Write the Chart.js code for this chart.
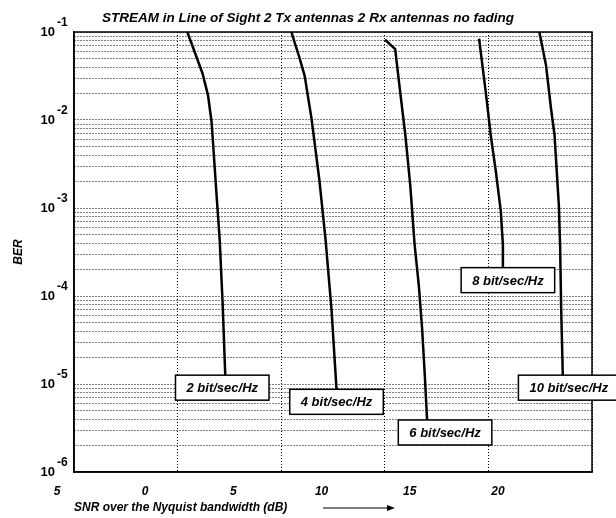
<!DOCTYPE html>
<html>
<head>
<meta charset="utf-8">
<script src="https://cdn.jsdelivr.net/npm/chart.js@4"></script>
<style>
  html, body { margin: 0; padding: 0; background: #fff; }
  canvas { display: block; }
</style>
</head>
<body>
<canvas id="grafico" width="616" height="518"></canvas>
<script>
// curvas BER x SNR ----------------------------------------
var snr2 = [0.47, 1.20, 1.47, 1.64, 1.76, 1.89, 2.03, 2.17, 2.30];
var ber2 = [1e-1, 3.4e-2, 1.9e-2, 9.5e-3, 3.7e-3, 1.3e-3, 4.4e-4, 8.6e-5, 1.26e-5];

var snr4 = [5.49, 5.89, 6.13, 6.46, 6.84, 7.14, 7.43, 7.67];
var ber4 = [1e-1, 5.0e-2, 3.2e-2, 1.05e-2, 2.1e-3, 4.4e-4, 6.9e-5, 8.7e-6];

var snr6 = [10.01, 10.50, 10.74, 10.99, 11.23, 11.44, 11.64, 11.80, 11.93, 12.04];
var ber6 = [8.2e-2, 6.4e-2, 2.1e-2, 6.8e-3, 1.8e-3, 3.8e-4, 1.33e-4, 4.3e-5, 1.26e-5, 3.9e-6];

var snr8 = [14.55, 14.87, 15.11, 15.36, 15.60, 15.70, 15.70];
var ber8 = [8.4e-2, 2.1e-2, 6.8e-3, 2.6e-3, 9.1e-4, 3.8e-4, 2.1e-4];

var snr10 = [17.46, 17.78, 18.02, 18.19, 18.30, 18.40, 18.46, 18.51, 18.59];
var ber10 = [1e-1, 4.2e-2, 1.36e-2, 6.8e-3, 2.6e-3, 1.07e-3, 3.8e-4, 7.6e-5, 1.26e-5];

var rotulos = ["2 bit/sec/Hz", "4 bit/sec/Hz", "6 bit/sec/Hz", "8 bit/sec/Hz", "10 bit/sec/Hz"];

// eixos ---------------------------------------------------
var xTicks = [-5, 0, 5, 10, 15, 20];
var xTickLabels = ["5", "0", "5", "10", "15", "20"];
var yDecadas = [1e-6, 1e-5, 1e-4, 1e-3, 1e-2, 1e-1];
var yExpoentes = ["-6", "-5", "-4", "-3", "-2", "-1"];

var curvas = [
  { snr: snr2, ber: ber2 },
  { snr: snr4, ber: ber4 },
  { snr: snr6, ber: ber6 },
  { snr: snr8, ber: ber8 },
  { snr: snr10, ber: ber10 }
];

// deslocamento horizontal das caixas de rótulo (px)
var deslocRotulo = [-3, 0, 18, 5, 6];

var fonte = '"Liberation Sans", Arial, Helvetica, sans-serif';
Chart.defaults.font.family = fonte;
Chart.defaults.color = "#000";

var gradeCor = "#000";

// rótulos 10^k, caixas, moldura, seta ---------------------
var decoracao = {
  id: "decoracao",
  afterDraw: function (chart) {
    var ctx = chart.ctx;
    var area = chart.chartArea;
    var sx = chart.scales.x;
    var sy = chart.scales.y;
    ctx.save();

    ctx.strokeStyle = "#000";
    ctx.lineWidth = 1.5;
    ctx.strokeRect(area.left, area.top, area.right - area.left, area.bottom - area.top);

    ctx.fillStyle = "#000";
    ctx.textBaseline = "middle";
    yDecadas.forEach(function (v, i) {
      var py = sy.getPixelForValue(v);
      ctx.font = "bold 13px " + fonte;
      ctx.textAlign = "right";
      ctx.fillText("10", area.left - 19, py);
      ctx.font = "bold 12px " + fonte;
      ctx.textAlign = "left";
      ctx.fillText(yExpoentes[i], area.left - 17, py - 9);
    });

    ctx.font = "italic bold 13px " + fonte;
    ctx.textAlign = "center";
    ctx.lineWidth = 1.5;
    rotulos.forEach(function (txt, i) {
      var c = curvas[i];
      var n = c.snr.length - 1;
      var px = sx.getPixelForValue(c.snr[n]) + deslocRotulo[i];
      var py = sy.getPixelForValue(c.ber[n]);
      var w = ctx.measureText(txt).width + 22;
      var h = 25;
      ctx.fillStyle = "#fff";
      ctx.fillRect(px - w / 2, py, w, h);
      ctx.strokeStyle = "#000";
      ctx.strokeRect(px - w / 2, py, w, h);
      ctx.fillStyle = "#000";
      ctx.fillText(txt, px, py + h / 2 + 1);
    });

    // seta ao lado do titulo do eixo x
    var ya = chart.height - 10;
    var x0 = area.left + 249, x1 = area.left + 321;
    ctx.lineWidth = 1;
    ctx.beginPath();
    ctx.moveTo(x0, ya);
    ctx.lineTo(x1 - 6, ya);
    ctx.stroke();
    ctx.beginPath();
    ctx.moveTo(x1, ya);
    ctx.lineTo(x1 - 8, ya - 3);
    ctx.lineTo(x1 - 8, ya + 3);
    ctx.closePath();
    ctx.fill();

    ctx.restore();
  }
};

var ctxGrafico = document.getElementById("grafico");

new Chart(ctxGrafico, {
  type: "line",
  data: {
    datasets: curvas.map(function (c, i) {
      return {
        label: rotulos[i],
        data: c.snr.map(function (x, j) { return { x: x, y: c.ber[j] }; }),
        borderColor: "#000",
        borderWidth: 2.5,
        pointRadius: 0,
        tension: 0,
        fill: false,
        xAxisID: "x",
        yAxisID: "y"
      };
    })
  },
  options: {
    responsive: false,
    animation: false,
    layout: { padding: 0 },
    plugins: {
      legend: { display: false },
      tooltip: { enabled: false },
      title: {
        display: true,
        text: "STREAM in Line of Sight 2 Tx antennas 2 Rx antennas no fading",
        font: { size: 13.5, weight: "bold", style: "italic" },
        color: "#000",
        padding: { top: 10, bottom: 5.8 }
      }
    },
    scales: {
      x: {
        type: "linear",
        position: "bottom",
        min: -5,
        max: 20,
        ticks: { display: false, stepSize: 5 },
        grid: { color: gradeCor, lineWidth: 1, drawTicks: false },
        border: { display: true, color: "#000", width: 1.5, dash: [1, 2] },
        afterFit: function (s) { s.height = 0; }
      },
      x2: {
        type: "linear",
        position: "bottom",
        min: -5,
        max: 24.37,
        grid: { display: false, drawTicks: false },
        border: { display: false },
        ticks: {
          stepSize: 5,
          includeBounds: false,
          labelOffset: -17,
          padding: 12,
          maxRotation: 0,
          font: { size: 12, weight: "bold", style: "italic" },
          callback: function (v) {
            var k = xTicks.indexOf(v);
            return k >= 0 ? xTickLabels[k] : "";
          }
        },
        title: {
          display: true,
          text: "SNR over the Nyquist bandwidth (dB)",
          align: "start",
          font: { size: 12, weight: "bold", style: "italic" },
          padding: { top: 0, bottom: 3 }
        },
        afterFit: function (s) { s.height = 46; }
      },
      y: {
        type: "logarithmic",
        position: "left",
        min: 1e-6,
        max: 1e-1,
        ticks: { display: false, autoSkip: false },
        grid: { color: gradeCor, lineWidth: 1, drawTicks: false },
        border: { display: true, color: "#000", width: 1.5, dash: [1, 2] },
        title: {
          display: true,
          text: "BER",
          font: { size: 12, weight: "bold", style: "italic" },
          padding: { top: 11, bottom: 0 }
        },
        afterBuildTicks: function (s) {
          var t = [];
          yDecadas.forEach(function (d, i) {
            if (i === yDecadas.length - 1) { t.push({ value: d, major: true }); return; }
            for (var m = 1; m <= 9; m++) t.push({ value: d * m, major: m === 1 });
          });
          s.ticks = t;
        },
        afterFit: function (s) { s.width = 74; }
      },
      // margem direita (sem marcas)
      yDir: {
        type: "linear",
        position: "right",
        display: true,
        grid: { display: false, drawTicks: false },
        border: { display: false },
        ticks: { display: false },
        afterFit: function (s) { s.width = 24; }
      }
    }
  },
  plugins: [decoracao]
});
</script>
</body>
</html>
